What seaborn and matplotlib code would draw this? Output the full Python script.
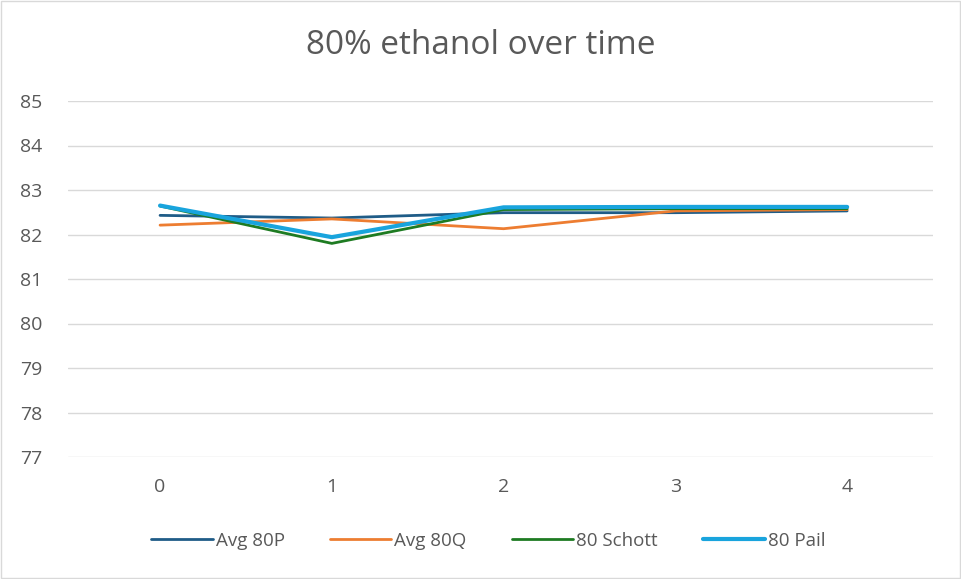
import pandas as pd
import seaborn as sns
import matplotlib.pyplot as plt

# -------------------------------
# Data
# -------------------------------
time_points = [0, 1, 2, 3, 4]
avg_80p = [82.43, 82.37, 82.49, 82.49, 82.53]
avg_80q = [82.21, 82.35, 82.13, 82.53, 82.56]
schott_80 = [82.64, 81.80, 82.56, 82.58, 82.58]
pail_80 = [82.65, 81.94, 82.61, 82.62, 82.62]

series_names = ["Avg 80P", "Avg 80Q", "80 Schott", "80 Pail"]
series_values = [avg_80p, avg_80q, schott_80, pail_80]
colors = ["#1F5C87", "#ED7D31", "#1E7B22", "#19A4DD"]
widths = [2.0, 2.0, 2.0, 3.0]

rows = []
for name, vals in zip(series_names, series_values):
    for t, v in zip(time_points, vals):
        rows.append({"time": t, "value": v, "series": name})
df = pd.DataFrame(rows)

# -------------------------------
# Plot
# -------------------------------
sns.set_style("white")
plt.rcParams['font.family'] = ['Open Sans', 'DejaVu Sans']
text_color = "#595959"

fig = plt.figure(figsize=(9.62, 5.79), dpi=100)
# plot area: x 68..933 px, y 101..457 px
ax = fig.add_axes([68 / 962, 1 - 457 / 579, (933 - 68) / 962, (457 - 101) / 579])

for name, col, lw in zip(series_names, colors, widths):
    sub = df[df["series"] == name]
    sns.lineplot(data=sub, x="time", y="value", color=col, linewidth=lw,
                 label=name, ax=ax, legend=False)

ax.set_xlim(-0.536, 4.5)
ax.set_ylim(77, 85)
ax.set_yticks(range(77, 86))
ax.set_xticks(time_points)
ax.set_xlabel("")
ax.set_ylabel("")
ax.grid(axis="y", color="#D9D9D9", linewidth=1)
ax.set_axisbelow(True)
for s in ax.spines.values():
    s.set_visible(False)
ax.tick_params(axis="both", length=0, labelsize=14, colors=text_color)
ax.tick_params(axis="x", pad=15)
ax.tick_params(axis="y", pad=34.5)
for lbl in ax.get_yticklabels():
    lbl.set_horizontalalignment("left")

fig.text(0.5, 1 - 46 / 579, "80% ethanol over time", fontsize=24,
         color=text_color, ha="center", va="center")

handles, labels = ax.get_legend_handles_labels()
fig.legend(handles, labels, loc="center", ncol=4, frameon=False,
           bbox_to_anchor=(488 / 962, 1 - 541 / 579), fontsize=13.5,
           labelcolor=text_color, handlelength=3.3, handletextpad=0.15,
           columnspacing=2.4)

# light border round the chart
fig.patches.append(plt.Rectangle((0.001, 0.002), 0.997, 0.996, transform=fig.transFigure,
                                 fill=False, edgecolor="#D9D9D9", linewidth=1))

fig.savefig("out.png", dpi=100)
